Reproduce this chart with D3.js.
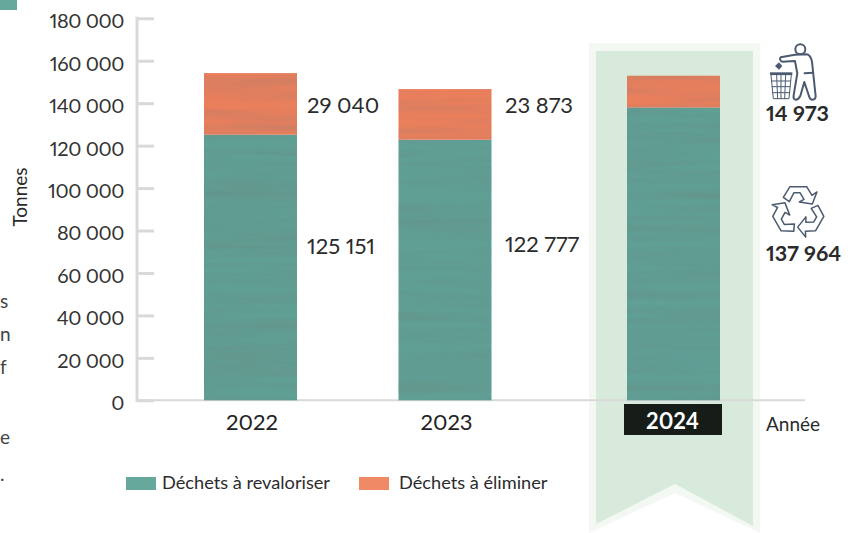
<!DOCTYPE html>
<html>
<head>
<meta charset="utf-8">
<script src="https://cdn.jsdelivr.net/npm/d3@7/dist/d3.min.js"></script>
<style>
  html, body { margin: 0; padding: 0; background: #fff; overflow: hidden; }
  text { font-family: Lato, "Open Sans", sans-serif; fill: #2b2b2b; font-variant-numeric: proportional-nums; font-feature-settings: "pnum" 1; }
  .icon { fill: none; stroke: #4b5a70; stroke-linejoin: round; stroke-linecap: round; }
</style>
</head>
<body>
<div id="chart"></div>
<script>
//chart data
var years = ["2022", "2023", "2024"];
var revaloriser = [125151, 122777, 137964];
var eliminer = [29040, 23873, 14973];
var yTicks = [0, 20000, 40000, 60000, 80000, 100000, 120000, 140000, 160000, 180000];
var legendLabels = ["Déchets à revaloriser", "Déchets à éliminer"];
//paragraph letters left over at the left edge of the page
var clippedLetters = ["s", "n", "f", "e", "."];
var clippedRows = [308, 341, 374, 444, 481];

var svgWidth = 856;
var svgHeight = 533;
var teal = "#609f94";
var orange = "#ea7f5c";
var tealLegend = "#67a89d";
var orangeLegend = "#f08a66";
var grey = "#d9d9d9";

var svg = d3.select("#chart").append("svg")
  .attr("width", svgWidth)
  .attr("height", svgHeight)
  .style("display", "block");

var xScale = d3.scaleOrdinal().domain(years).range([250.5, 445, 673.5]);
var yScale = d3.scaleLinear().domain([0, 180000]).range([400.3, 18.3]);
var barWidth = 93;
var spaced = d3.format(",");
function fmt(v) { return spaced(v).replace(/,/g, " "); }

//wavy paper texture on the bars, dark streaks with low alpha
var defs = svg.append("defs");
var wave = defs.append("filter").attr("id", "wave")
  .attr("x", 0).attr("y", 0).attr("width", 1).attr("height", 1);
wave.append("feTurbulence")
  .attr("type", "fractalNoise")
  .attr("baseFrequency", "0.006 0.12")
  .attr("numOctaves", 2)
  .attr("seed", 4)
  .attr("result", "noise");
wave.append("feColorMatrix")
  .attr("in", "noise")
  .attr("type", "matrix")
  .attr("values", "0 0 0 0 0.15  0 0 0 0 0.2  0 0 0 0 0.18  0.55 0 0 0 -0.2")
  .attr("result", "streaks");
wave.append("feComposite")
  .attr("in", "streaks").attr("in2", "SourceAlpha").attr("operator", "in")
  .attr("result", "clipped");
wave.append("feMerge").selectAll("feMergeNode")
  .data(["SourceGraphic", "clipped"]).enter()
  .append("feMergeNode").attr("in", d => d);

//top left corner leftover and edge letters
svg.append("rect").attr("x", 0).attr("y", 0).attr("width", 17).attr("height", 10).attr("fill", tealLegend);
svg.selectAll(".clipped").data(clippedLetters).enter().append("text")
  .attr("class", "clipped")
  .attr("x", 0)
  .attr("y", (d, i) => clippedRows[i])
  .attr("font-size", 19)
  .style("fill", "#444")
  .text(d => d);

//ribbon behind 2024
var ribbonLine = d3.line();
svg.append("path")
  .attr("d", ribbonLine([[589, 43], [760, 43], [760, 533], [675, 493], [589, 533]]) + "Z")
  .attr("fill", "#f3f8f3");
svg.append("path")
  .attr("d", ribbonLine([[596, 51], [753, 51], [753, 526], [675, 484], [596, 524]]) + "Z")
  .attr("fill", "#d8eadc");

//y axis
var yAxis = d3.axisLeft(yScale).tickValues(yTicks).tickFormat(fmt).tickSize(-17).tickPadding(13);
var yG = svg.append("g").attr("transform", "translate(137,0)").call(yAxis);
yG.select(".domain").remove();
yG.append("line").attr("y1", yScale(180000) - 1.5).attr("y2", yScale(0) + 1.5).attr("stroke", grey).attr("stroke-width", 3);
yG.selectAll(".tick line").attr("stroke", grey).attr("stroke-width", 3);
yG.selectAll(".tick text")
  .attr("dy", "0.47em")
  .attr("font-size", 20)
  .attr("letter-spacing", -0.4)
  .style("font-family", "Lato, sans-serif")
  .style("fill", "#333");

//baseline
svg.append("line")
  .attr("x1", 137).attr("x2", 805)
  .attr("y1", yScale(0)).attr("y2", yScale(0))
  .attr("stroke", grey).attr("stroke-width", 2);

//stacked bars
svg.selectAll(".bar-teal").data(years).enter().append("rect")
  .attr("class", "bar-teal")
  .attr("x", d => xScale(d) - barWidth / 2)
  .attr("width", barWidth)
  .attr("y", (d, i) => yScale(revaloriser[i]))
  .attr("height", (d, i) => yScale(0) - yScale(revaloriser[i]))
  .attr("fill", teal)
  .attr("filter", "url(#wave)");
svg.selectAll(".bar-orange").data(years).enter().append("rect")
  .attr("class", "bar-orange")
  .attr("x", d => xScale(d) - barWidth / 2)
  .attr("width", barWidth)
  .attr("y", (d, i) => yScale(revaloriser[i] + eliminer[i]))
  .attr("height", (d, i) => yScale(revaloriser[i]) - yScale(revaloriser[i] + eliminer[i]))
  .attr("fill", orange)
  .attr("filter", "url(#wave)");

//value labels next to 2022 and 2023, 2024 is in bold beside the icons
var plainYears = years.slice(0, 2);
svg.selectAll(".val-top").data(plainYears).enter().append("text")
  .attr("class", "val-top")
  .attr("x", (d, i) => xScale(d) + [56.5, 60][i])
  .attr("y", 113)
  .attr("font-size", 22)
  .text((d, i) => fmt(eliminer[i]));
svg.selectAll(".val-bottom").data(plainYears).enter().append("text")
  .attr("class", "val-bottom")
  .attr("x", (d, i) => xScale(d) + [56.5, 60][i])
  .attr("y", (d, i) => [254, 252][i])
  .attr("font-size", 22)
  .text((d, i) => fmt(revaloriser[i]));

svg.append("text").attr("x", 766).attr("y", 121)
  .attr("font-size", 21.5).attr("font-weight", 700)
  .text(fmt(eliminer[2]));
svg.append("text").attr("x", 766).attr("y", 261)
  .attr("font-size", 21.5).attr("font-weight", 700)
  .text(fmt(revaloriser[2]));

//year labels
svg.selectAll(".year").data(plainYears).enter().append("text")
  .attr("class", "year")
  .attr("x", d => xScale(d) + 1.5)
  .attr("y", 430)
  .attr("text-anchor", "middle")
  .attr("font-size", 22)
  .style("fill", "#222")
  .text(d => d);
svg.append("rect").attr("x", 624).attr("y", 404).attr("width", 98).attr("height", 31).attr("fill", "#161c18");
svg.append("text")
  .attr("x", xScale("2024") - 1).attr("y", 429)
  .attr("text-anchor", "middle")
  .attr("font-size", 22).attr("font-weight", 700)
  .style("fill", "#fff")
  .text("2024");

//axis titles
svg.append("text").attr("x", 766).attr("y", 431).attr("font-size", 19).text("Année");
svg.append("text")
  .attr("transform", "translate(27,197) rotate(-90)")
  .attr("text-anchor", "middle")
  .attr("font-size", 19)
  .text("Tonnes");

//legend
var legendX = [126, 359];
var legendColors = [tealLegend, orangeLegend];
var legend = svg.selectAll(".legend").data(legendLabels).enter().append("g")
  .attr("class", "legend")
  .attr("transform", (d, i) => `translate(${legendX[i]},477)`);
legend.append("rect").attr("width", 30).attr("height", 13).attr("fill", (d, i) => legendColors[i]);
legend.append("text")
  .attr("x", (d, i) => [36, 40][i])
  .attr("y", 12)
  .attr("font-size", 18.2)
  .text(d => d);

//icons, drawn in zoomed up coordinates and scaled back
var icons = svg.append("g").attr("transform", "translate(580,20) scale(0.3333)");
var person = icons.append("g").attr("class", "icon").attr("stroke-width", 6);
person.append("circle").attr("cx", 661).attr("cy", 88).attr("r", 15);
person.append("path").attr("d", "M602 112 L645 104 L680 103 Q692 105 696 125 L707 228 Q707 239 697 239 Q690 239 687 228 L673 186 L661 228 Q655 240 646 239 Q639 236 641 226 L652 160 L645 123 L606 125 Q597 120 602 112 Z");
person.append("path").attr("d", "M674 160 L699 158");
icons.append("path").attr("d", "M597 127 L607 138 L597 149 L585 138 Z").attr("fill", "#4b5a70");
icons.append("rect").attr("x", 570).attr("y", 157).attr("width", 67).attr("height", 8).attr("fill", "#4b5a70");
var bin = icons.append("g").attr("class", "icon").attr("stroke-width", 3);
bin.append("path").attr("d", "M573 165 L580 236 L627 236 L634 165 Z");
bin.append("path").attr("d", "M575 183 H632 M577 200 H630 M578 218 H629 M590 165 L593 236 M603 165 V236 M617 165 L614 236");

var arrow = "M610 532 L630 500 L680 500 L696 526 L711 516 L697 552 L658 546 L672 538 L660 518 L642 518 L628 545 Z";
var recycle = icons.append("g").attr("class", "icon").attr("stroke-width", 4.5);
[0, 120, 240].forEach(function(angle) {
  recycle.append("path").attr("d", arrow).attr("transform", `rotate(${angle} 655 574)`);
});
</script>
</body>
</html>
